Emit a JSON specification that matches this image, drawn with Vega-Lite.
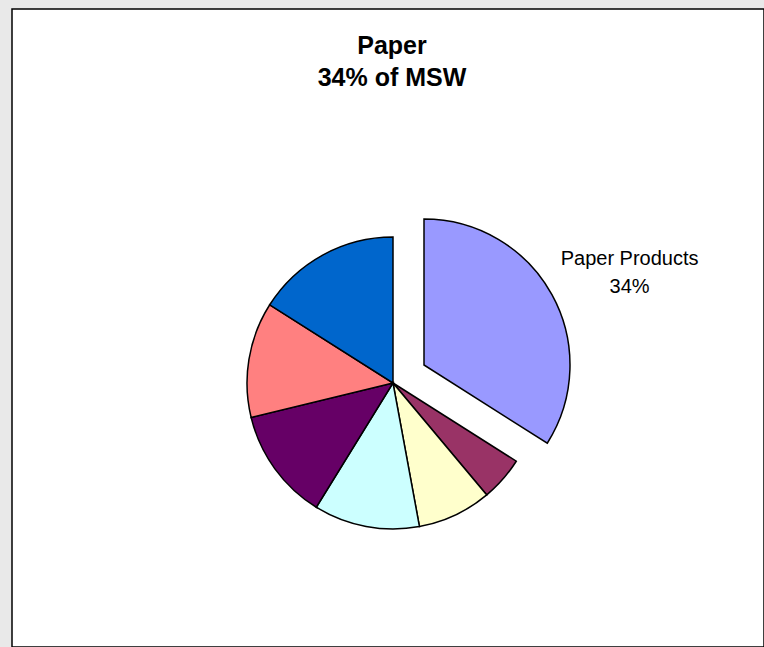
{
  "$schema": "https://vega.github.io/schema/vega-lite/v6.json",
  "width": 752,
  "height": 638,
  "autosize": {"type": "none"},
  "padding": {"left": 12, "top": 9, "right": 0, "bottom": 0},
  "background": "#e9e9e9",
  "view": {"fill": "white", "stroke": "black", "strokeWidth": 1.5},
  "title": {
    "text": ["Paper", "34% of MSW"],
    "font": "Liberation Sans",
    "fontSize": 25,
    "fontWeight": "bold",
    "lineHeight": 32,
    "color": "black",
    "anchor": "middle",
    "offset": -82,
    "dx": 4
  },
  "data": {
    "values": [
      {"category": "Paper Products", "value": 34.0, "rank": 1, "label": "Paper Products\n34%"},
      {"category": "Glass", "value": 4.9, "rank": 2, "label": ""},
      {"category": "Metals", "value": 8.2, "rank": 3, "label": ""},
      {"category": "Plastics", "value": 11.7, "rank": 4, "label": ""},
      {"category": "Food Scraps", "value": 12.4, "rank": 5, "label": ""},
      {"category": "Yard Trimmings", "value": 12.8, "rank": 6, "label": ""},
      {"category": "Other", "value": 16.0, "rank": 7, "label": ""}
    ]
  },
  "encoding": {
    "theta": {"field": "value", "type": "quantitative", "stack": true, "scale": {"domain": [0, 100]}},
    "order": {"field": "rank", "type": "quantitative", "sort": "ascending"}
  },
  "layer": [
    {
      "mark": {"type": "arc", "outerRadius": 146, "stroke": "black", "strokeWidth": 1.5, "xOffset": 5, "yOffset": 55},
      "encoding": {
        "color": {
          "field": "category", "type": "nominal", "legend": null,
          "scale": {
            "domain": ["Paper Products", "Glass", "Metals", "Plastics", "Food Scraps", "Yard Trimmings", "Other"],
            "range": ["#9999FF", "#993366", "#FFFFCC", "#CCFFFF", "#660066", "#FF8080", "#0066CC"]
          }
        },
        "opacity": {"condition": {"test": "datum.category === 'Paper Products'", "value": 0}, "value": 1}
      }
    },
    {
      "mark": {"type": "arc", "outerRadius": 146, "stroke": "black", "strokeWidth": 1.5, "xOffset": 36, "yOffset": 37},
      "encoding": {
        "color": {"field": "category", "type": "nominal", "legend": null},
        "opacity": {"condition": {"test": "datum.category === 'Paper Products'", "value": 1}, "value": 0}
      }
    },
    {
      "mark": {"type": "text", "radius": 270, "font": "Liberation Sans", "fontSize": 20, "lineHeight": 28, "lineBreak": "\n", "align": "center", "baseline": "alphabetic", "color": "black", "xOffset": 5, "yOffset": 55, "dy": 12},
      "encoding": {
        "text": {"field": "label", "type": "nominal"}
      }
    }
  ]
}
